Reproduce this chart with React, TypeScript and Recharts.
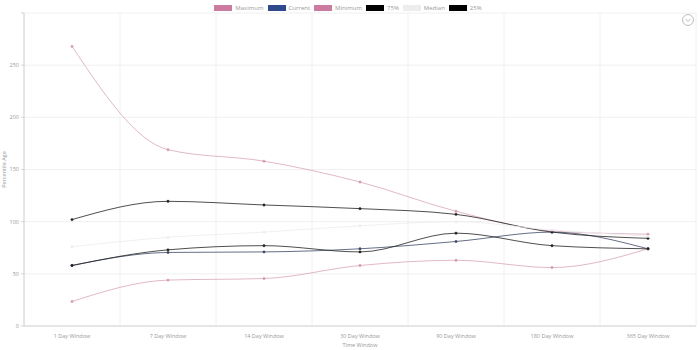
import { LineChart, Line, XAxis, YAxis, CartesianGrid, Legend } from 'recharts';

const categories = [
  '1 Day Window',
  '7 Day Window',
  '14 Day Window',
  '30 Day Window',
  '90 Day Window',
  '180 Day Window',
  '365 Day Window'
];
const maximum = [268, 169, 158, 138, 110, 91, 88];
const current = [58, 70.5, 71, 74, 81, 90, 74];
const minimum = [23.5, 44, 45.5, 58, 63, 56, 74];
const p75 = [102, 119.5, 116, 112.5, 107, 90, 84];
const median = [76, 85, 90, 96, 100, 92, 86];
const p25 = [58, 73, 77, 71, 89, 77, 74];
const yTicks = [0, 50, 100, 150, 200, 250, 300];

const data = categories.map((name, i) => ({
  idx: i,
  name,
  maximum: maximum[i],
  current: current[i],
  minimum: minimum[i],
  p75: p75[i],
  median: median[i],
  p25: p25[i]
}));

const SERIES = [
  { key: 'maximum', label: 'Maximum', color: '#cc7aa0', line: '#d49ab4', width: 0.7 },
  { key: 'current', label: 'Current', color: '#2e4a8a', line: '#3d4a66', width: 0.8 },
  { key: 'minimum', label: 'Minimum', color: '#cc7aa0', line: '#d49ab4', width: 0.7 },
  { key: 'p75', label: '75%', color: '#000000', line: '#222222', width: 0.8 },
  { key: 'median', label: 'Median', color: '#ededed', line: '#ececec', width: 0.8 },
  { key: 'p25', label: '25%', color: '#000000', line: '#222222', width: 0.8 }
];

const TEXT = '#999';
const FONT = '"Open Sans", sans-serif';

function LegendContent() {
  return (
    <div style={{ height: 11, display: 'flex', justifyContent: 'center', alignItems: 'center', fontSize: 6, color: TEXT, fontFamily: FONT }}>
      {SERIES.map((s) => (
        <div key={s.key} style={{ display: 'flex', alignItems: 'center', margin: '0 2px' }}>
          <span style={{ display: 'inline-block', width: 18, height: 6, background: s.color, marginRight: 3 }} />
          <span>{s.label}</span>
        </div>
      ))}
    </div>
  );
}

export default function App() {
  return (
    <div style={{ position: 'absolute', left: 0, top: 0, width: 698, height: 350, background: '#fff' }}>
      <LineChart width={698} height={350} data={data} margin={{ top: 2, right: 2, bottom: 0, left: 0 }}>
        <CartesianGrid xAxisId="grid" stroke="#ececec" strokeWidth={0.8} />
        <XAxis
          xAxisId="grid"
          type="number"
          dataKey="idx"
          domain={[-0.5, 6.5]}
          ticks={[-0.5, 0.5, 1.5, 2.5, 3.5, 4.5, 5.5, 6.5]}
          hide
        />
        <XAxis
          dataKey="idx"
          type="number"
          domain={[-0.5, 6.5]}
          ticks={[0, 1, 2, 3, 4, 5, 6]}
          tickFormatter={(v: number) => categories[v]}
          height={24}
          axisLine={{ stroke: '#d4d4d4' }}
          tickLine={false}
          tick={{ fontSize: 5.5, fill: TEXT, fontFamily: FONT }}
          tickMargin={2}
          label={{ value: 'Time Window', position: 'insideBottom', offset: 3, fontSize: 5.5, fill: TEXT, fontFamily: FONT }}
        />
        <YAxis
          domain={[0, 300]}
          ticks={yTicks}
          width={24}
          tickFormatter={(v: number) => (v === 300 ? '' : String(v))}
          axisLine={{ stroke: '#d4d4d4' }}
          tickLine={{ stroke: '#d4d4d4' }}
          tickSize={3}
          tick={{ fontSize: 5.5, fill: TEXT, fontFamily: FONT }}
          label={{ value: 'Percentile Age', angle: -90, position: 'insideLeft', offset: 4, fontSize: 5.5, fill: TEXT, fontFamily: FONT, style: { textAnchor: 'middle' } }}
        />
        <Legend verticalAlign="top" align="center" content={<LegendContent />} wrapperStyle={{ top: 2 }} />
        {SERIES.map((s) => (
          <Line
            key={s.key}
            dataKey={s.key}
            name={s.label}
            type="monotone"
            stroke={s.line}
            strokeWidth={s.width}
            dot={{ r: 1.2, fill: s.line, stroke: s.line, strokeWidth: 0.4 }}
            activeDot={false}
            isAnimationActive={false}
          />
        ))}
      </LineChart>
      <svg width={14} height={14} style={{ position: 'absolute', left: 681, top: 13 }}>
        <circle cx={7} cy={7} r={5.5} fill="none" stroke="#aaa" strokeWidth={0.8} />
        <path d="M4.5 6 L7 8.5 L9.5 6" fill="none" stroke="#aaa" strokeWidth={0.8} />
      </svg>
    </div>
  );
}
